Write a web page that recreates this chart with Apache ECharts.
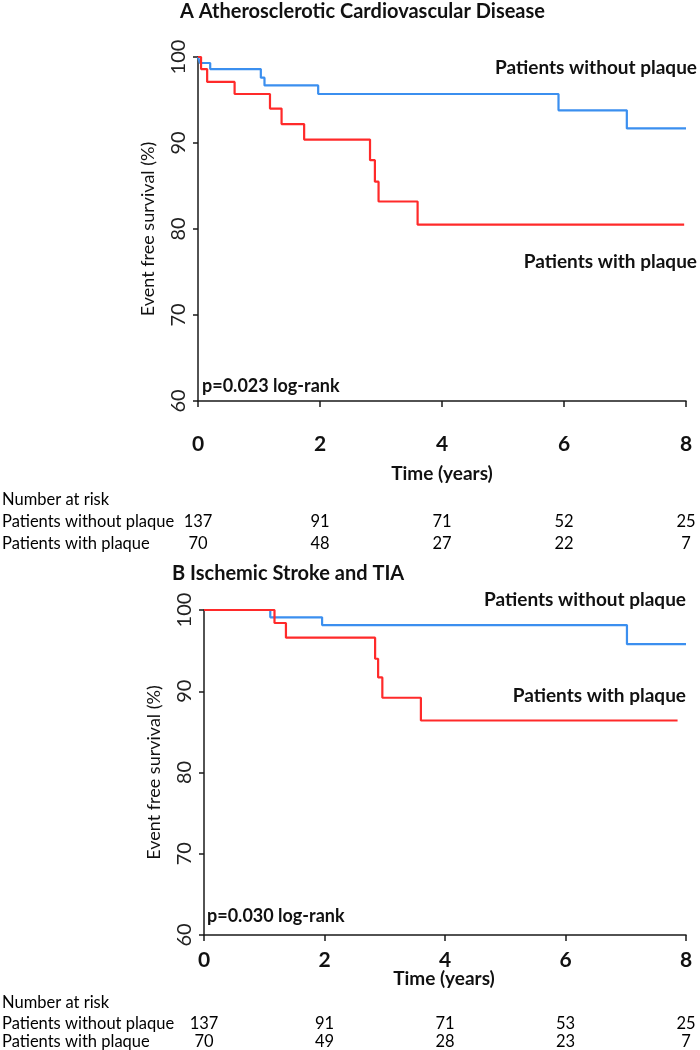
<!DOCTYPE html>
<html><head><meta charset="utf-8">
<script src="https://cdn.jsdelivr.net/npm/echarts/dist/echarts.min.js"></script>
<style>html,body{margin:0;padding:0;background:#fff}#c{width:700px;height:1050px}</style>
</head><body><div id="c"></div>
<script>
const xTickLabels = ['0','2','4','6','8'];
const riskTimes = [0, 2, 4, 6, 8];
// Panel A
const aWithoutTime = [0, 0.03, 0.2, 1.03, 1.09, 1.97, 5.91, 7.03, 8.0];
const aWithoutSurv = [100, 99.3, 98.6, 97.6, 96.7, 95.7, 93.8, 91.7, 91.7];
const aWithTime = [0, 0.05, 0.15, 0.6, 1.18, 1.37, 1.74, 2.82, 2.9, 2.96, 3.6, 7.97];
const aWithSurv = [100, 98.6, 97.1, 95.7, 94.0, 92.2, 90.4, 88.0, 85.5, 83.2, 80.5, 80.5];
const aRiskWithout = [137, 91, 71, 52, 25];
const aRiskWith = [70, 48, 27, 22, 7];
// Panel B
const bWithoutTime = [0, 1.1, 1.96, 7.02, 8.0];
const bWithoutSurv = [100, 99.1, 98.15, 95.8, 95.8];
const bWithTime = [0, 1.17, 1.36, 2.84, 2.89, 2.96, 3.6, 7.86];
const bWithSurv = [100, 98.4, 96.6, 94.0, 91.7, 89.2, 86.4, 86.4];
const bRiskWithout = [137, 91, 71, 53, 25];
const bRiskWith = [70, 49, 28, 23, 7];

const FF = 'Lato, "Open Sans", sans-serif';
const BLUE = '#3b8fef';
const RED = '#ff2a2a';
const AX = '#1a1a1a';

function pairs(t, s){ return t.map((v,i)=>[v, s[i]]); }

function xAxisDef(gi, margin){
  return {
    gridIndex: gi, type: 'value', min: 0, max: 8, interval: 2,
    axisLine: {show: true, onZero: false, lineStyle: {color: AX, width: 1.5}},
    axisTick: {show: true, length: 6, lineStyle: {color: AX, width: 1.5}},
    axisLabel: {margin: margin, fontFamily: FF, fontWeight: 'bold', fontSize: 21, color: '#111',
      formatter: v => xTickLabels[riskTimes.indexOf(v)] || ''},
    splitLine: {show: false}
  };
}
function yAxisDef(gi, nameGap){
  return {
    gridIndex: gi, type: 'value', min: 60, max: 100, interval: 10,
    name: 'Event free survival (%)', nameLocation: 'middle', nameGap: nameGap,
    nameTextStyle: {fontFamily: FF, fontSize: 18, color: '#111'},
    axisLine: {show: true, lineStyle: {color: AX, width: 1.5}},
    axisTick: {show: true, length: 5, lineStyle: {color: AX, width: 1.5}},
    axisLabel: {rotate: 90, margin: 9, fontFamily: FF, fontSize: 20, color: '#222'},
    splitLine: {show: false}
  };
}
function lineSeries(gi, data, color){
  return {type: 'line', xAxisIndex: gi, yAxisIndex: gi, step: 'end', data: data,
    showSymbol: false, symbol: 'none', lineStyle: {color: color, width: 2.2}, silent: true, animation: false};
}

const chart = echarts.init(document.getElementById('c'), null, {renderer: 'canvas'});
const option = {
  animation: false,
  grid: [
    {left: 198, right: 14, top: 57, height: 344},
    {left: 204, right: 14, top: 610, height: 325}
  ],
  xAxis: [xAxisDef(0, 33), xAxisDef(1, 15)],
  yAxis: [yAxisDef(0, 41), yAxisDef(1, 41)],
  series: [
    lineSeries(0, pairs(aWithoutTime, aWithoutSurv), BLUE),
    lineSeries(0, pairs(aWithTime, aWithSurv), RED),
    lineSeries(1, pairs(bWithoutTime, bWithoutSurv), BLUE),
    lineSeries(1, pairs(bWithTime, bWithSurv), RED)
  ]
};
chart.setOption(option);

function txt(text, x, y, opts){
  return {type: 'text', x: x, y: y, silent: true, style: Object.assign({
    text: text, font: '17px ' + FF, fill: '#111', textAlign: 'left', textVerticalAlign: 'middle'}, opts || {})};
}
const T20 = 'bold 20px ' + FF;
const B19 = 'bold 19px ' + FF;
const R16 = '16.5px ' + FF;
const g = [];
g.push(txt('A Atherosclerotic Cardiovascular Disease', 180, 12, {font: T20}));
g.push(txt('B Ischemic Stroke and TIA', 172, 574, {font: T20}));
g.push(txt('Patients without plaque', 697, 68, {font: B19, textAlign: 'right'}));
g.push(txt('Patients with plaque', 697, 262, {font: B19, textAlign: 'right'}));
g.push(txt('Patients without plaque', 686, 600, {font: B19, textAlign: 'right'}));
g.push(txt('Patients with plaque', 686, 696, {font: B19, textAlign: 'right'}));
g.push(txt('p=0.023 log-rank', 202, 386, {font: 'bold 18px ' + FF}));
g.push(txt('p=0.030 log-rank', 207, 916, {font: 'bold 18px ' + FF}));
g.push(txt('Time (years)', 442, 474, {font: B19, textAlign: 'center'}));
g.push(txt('Time (years)', 444, 979, {font: B19, textAlign: 'center'}));

function riskTable(gi, yHead, yRow1, yRow2, r1, r2){
  g.push(txt('Number at risk', 2, yHead, {font: R16, fill: '#000'}));
  g.push(txt('Patients without plaque', 2, yRow1, {font: R16, fill: '#000'}));
  g.push(txt('Patients with plaque', 2, yRow2, {font: R16, fill: '#000'}));
  riskTimes.forEach((t, i) => {
    const px = chart.convertToPixel({gridIndex: gi}, [t, 60])[0];
    g.push(txt(String(r1[i]), px, yRow1, {font: R16, fill: '#000', textAlign: 'center'}));
    g.push(txt(String(r2[i]), px, yRow2, {font: R16, fill: '#000', textAlign: 'center'}));
  });
}
riskTable(0, 500, 522, 544, aRiskWithout, aRiskWith);
riskTable(1, 1003, 1024, 1042, bRiskWithout, bRiskWith);
chart.setOption({graphic: g});
</script></body></html>
